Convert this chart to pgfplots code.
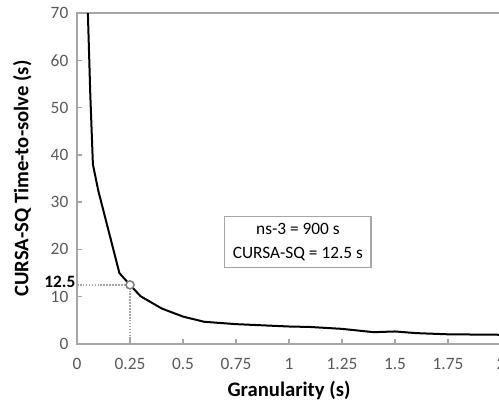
\documentclass[border=0pt]{standalone}
\usepackage{fontspec}
\setmainfont{Carlito}
\usepackage{pgfplots}
\pgfplotsset{compat=1.18}
\definecolor{axgray}{HTML}{A6A6A6}
\definecolor{txtgray}{HTML}{595959}
\begin{document}
\begin{tikzpicture}
\begin{axis}[
  scale only axis,
  width=318pt, height=248.25pt,
  xmin=0, xmax=2, ymin=0, ymax=70,
  xtick={0,0.25,...,2}, ytick={0,10,...,70},
  xticklabels={0,0.25,0.5,0.75,1,1.25,1.5,1.75,2},
  /pgf/number format/assume math mode=true,
  tick label style={font=\fontsize{13}{15}\selectfont, text=txtgray},
  xticklabel style={yshift=-7pt},
  yticklabel style={xshift=-3pt},
  axis line style={axgray, line width=1.1pt},
  tick style={axgray, line width=1pt},
  major tick length=4pt,
  tick align=inside,
  xtick pos=bottom, ytick pos=left,
  clip mode=individual,
]
% time-to-solve vs granularity
\addplot[black, line width=1.5pt] coordinates {
  (0.05,72) (0.0625,53) (0.075,38) (0.1,32.5) (0.2,15) (0.25,12.5)
  (0.3,10.1) (0.4,7.5) (0.5,5.8) (0.6,4.7) (0.75,4.2) (0.9,3.9)
  (1,3.7) (1.1,3.6) (1.25,3.2) (1.4,2.5) (1.5,2.65) (1.6,2.3)
  (1.75,2.05) (2,1.95)
};
\addplot[gray!70, densely dotted, line width=1.2pt] coordinates {(0,12.5) (0.25,12.5) (0.25,0)};
\addplot[only marks, mark=*, mark size=3pt, mark options={fill=white, draw=gray, line width=1.2pt}] coordinates {(0.25,12.5)};
\node[draw=axgray, line width=0.8pt, fill=white, align=center, inner xsep=6pt, inner ysep=5pt,
  font=\fontsize{13}{18}\selectfont] at (axis cs:1.042,21.6) {ns-3 = 900 s\\CURSA-SQ = 12.5 s};
\node[anchor=east, inner sep=1pt, yshift=2.5pt, font=\fontsize{13}{15}\selectfont\bfseries] at (axis cs:0,12.5) {12.5};
\node[rotate=90, font=\fontsize{15.5}{17}\selectfont\bfseries] at ([xshift=-41pt]axis description cs:0,0.5) {CURSA-SQ Time-to-solve (s)};
\node[font=\fontsize{15.5}{17}\selectfont\bfseries] at ([yshift=-34.5pt]axis description cs:0.5,0) {Granularity (s)};
\coordinate (O) at (axis cs:0,0);
\end{axis}
\pgfresetboundingbox
\path[use as bounding box] ([shift={(-57.75pt,-44.25pt)}]O) rectangle ([shift={(316.5pt,258pt)}]O);
\end{tikzpicture}
\end{document}
